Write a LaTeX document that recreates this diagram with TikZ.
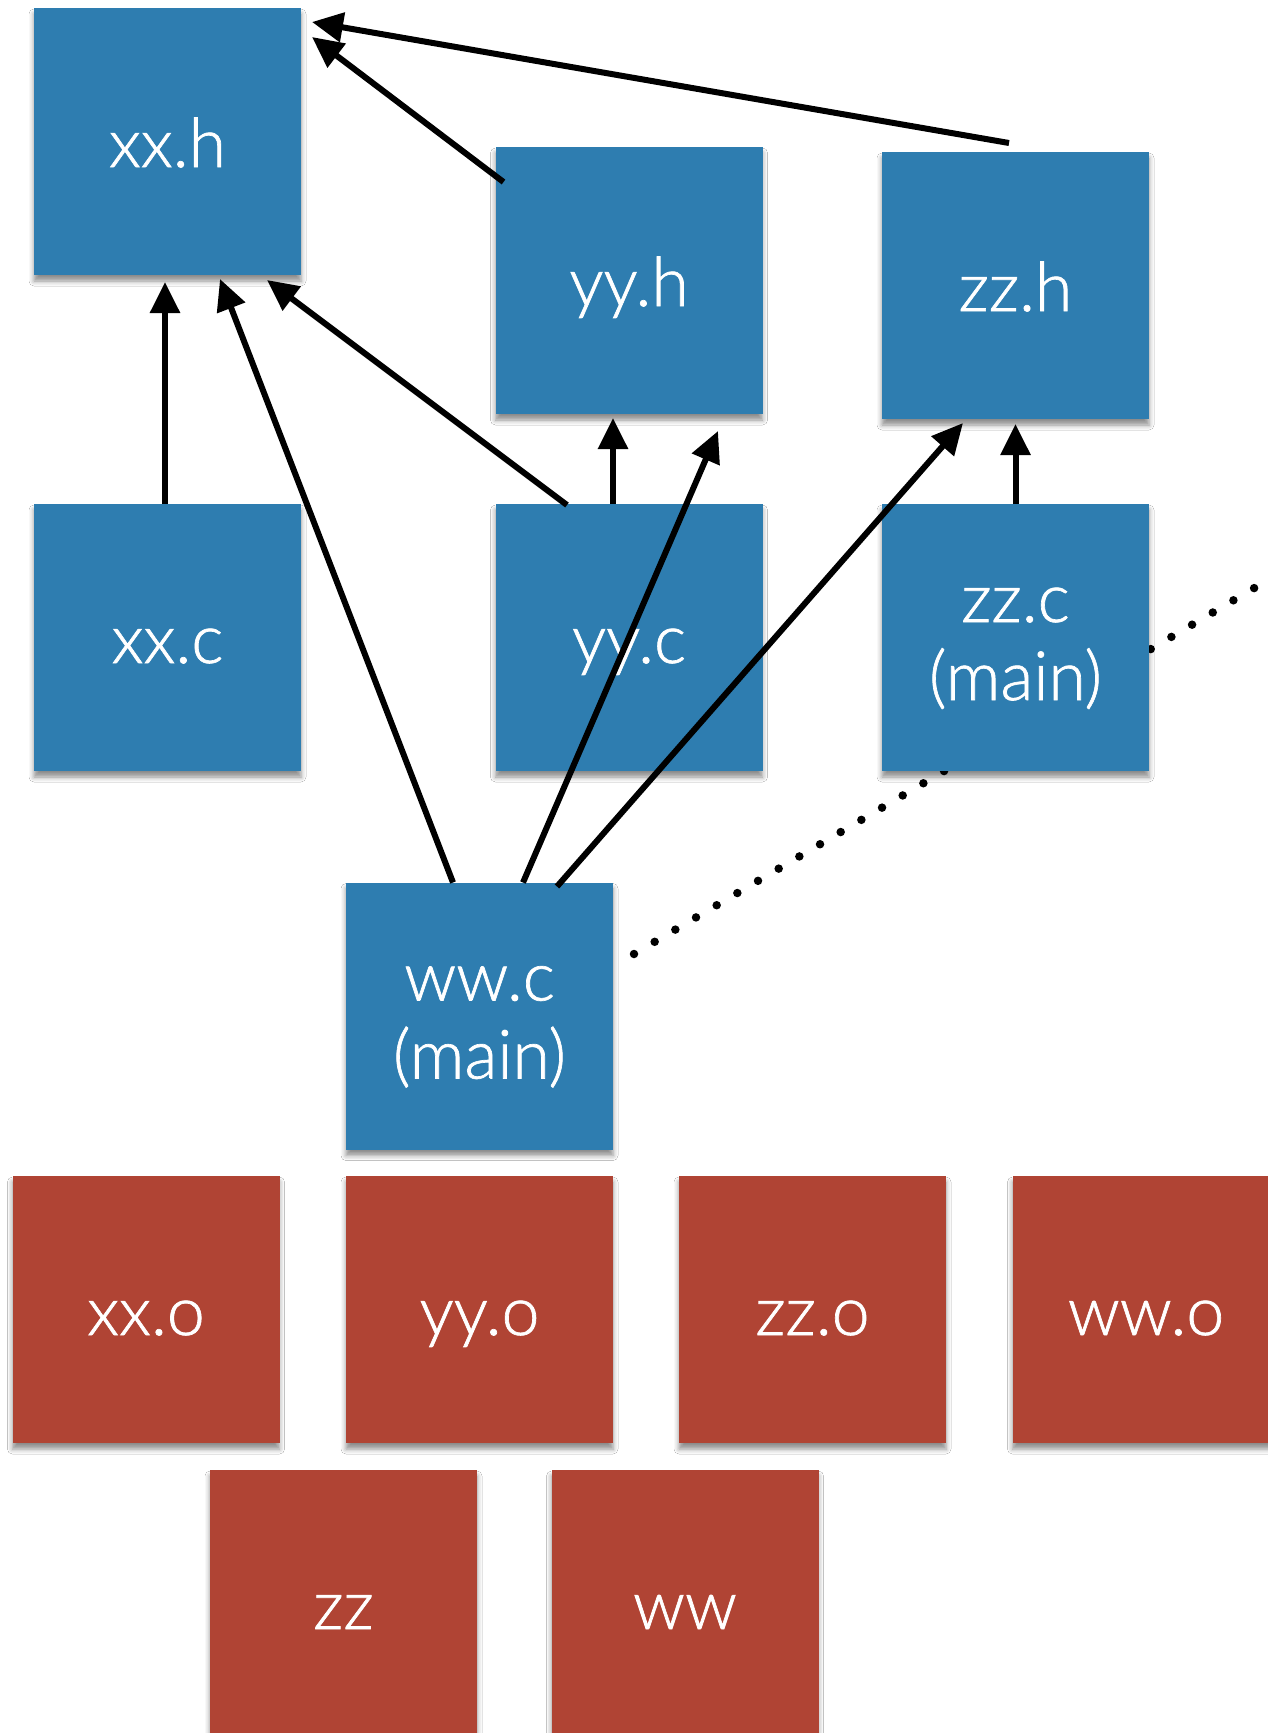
\documentclass[tikz,border=0pt]{standalone}
\usepackage{fontspec}
\newfontfamily\boxfont{Lato Light}[FakeBold=1]
\usetikzlibrary{arrows.meta,calc,shadows.blur}
\definecolor{srcblue}{RGB}{46,125,176}
\definecolor{objred}{RGB}{176,68,52}
\tikzset{
  file/.style={rectangle, minimum width=267pt, minimum height=267pt,
    inner sep=0pt, outer sep=0pt, text=white,
    font=\boxfont\fontsize{68}{78}\selectfont,
    blur shadow={shadow xshift=0pt, shadow yshift=-6pt,
      shadow blur radius=5pt, shadow opacity=45}},
  src/.style={file, fill=srcblue},
  obj/.style={file, fill=objred},
  one/.style={text height=51pt, text depth=0pt},
  two/.style={align=center},
  dep/.style={line width=6pt, -{Triangle[length=31pt,width=29pt]}},
  link/.style={line width=8.5pt, line cap=round, dash pattern=on 0pt off 24pt},
}
% invisible struts that fix the vertical placement of two-line labels
\newcommand\lineonestrut{\rule{0pt}{60pt}}
\newcommand\linetwostrut{\rule[-13pt]{0pt}{13pt}}

\begin{document}
\begin{tikzpicture}[x=1pt,y=-1pt]
\useasboundingbox (0,0) rectangle (1268,1733);
\clip (0,0) rectangle (1268,1733);
\fill[white] (0,0) rectangle (1268,1733);

% headers and sources
\node[src,one] (xxh) at (167.5,141.5) {xx.h};
\node[src,one] (yyh) at (629,280.5) {yy.h};
\node[src,one] (zzh) at (1015.5,285.5) {zz.h};
\node[src,one] (xxc) at (167.5,637.5) {xx.c};
\node[src,one] (yyc) at (629,637.5) {yy.c};
\node[src,two] (wwc) at (479.5,1016) {\lineonestrut ww.c\\(main)\linetwostrut};

% dotted separator, passing behind zz.c
\coordinate (far) at (1300,561);
\draw[link] ($(wwc.east)+(21,-62)$) -- (far);

\node[src,two] (zzc) at (1015.5,637.5) {\lineonestrut zz.c\\(main)\linetwostrut};

% object files and executables
\node[obj,one] (xxo) at (146,1309.5) {xx.o};
\node[obj,one] (yyo) at (479.5,1309.5) {yy.o};
\node[obj,one] (zzo) at (812.5,1309.5) {zz.o};
\node[obj,one] (wwo) at (1146,1309.5) {ww.o};
\node[obj,one] (zz) at (343.5,1603.5) {zz};
\node[obj,one] (ww) at (685,1603.5) {ww};

% include dependencies
\draw[dep] ($(xxc.north)+(-2.5,0)$) -- ($(xxh.south)+(-2.5,7)$);
\draw[dep] ($(wwc.north)+(-26.5,0)$) -- ($(xxh.south)+(52.5,4)$);
\draw[dep] ($(yyc.north)+(-62,1)$) -- ($(xxh.south east)+(-34,5)$);
\draw[dep] ($(yyh.north west)+(8,35)$) -- ($(xxh.north east)+(11,29)$);
\draw[dep] ($(zzh.north)+(-6.5,-9)$) -- ($(xxh.north east)+(11,14)$);
\draw[dep] ($(yyc.north)+(-16,0)$) -- ($(yyh.south)+(-16,4)$);
\draw[dep] ($(wwc.north)+(43.5,0)$) -- ($(yyh.south)+(89,17)$);
\draw[dep] ($(wwc.north)+(77.5,4)$) -- ($(zzh.south)+(-52.5,4)$);
\draw[dep] (zzc.north) -- ($(zzh.south)+(0,5)$);
\end{tikzpicture}
\end{document}
